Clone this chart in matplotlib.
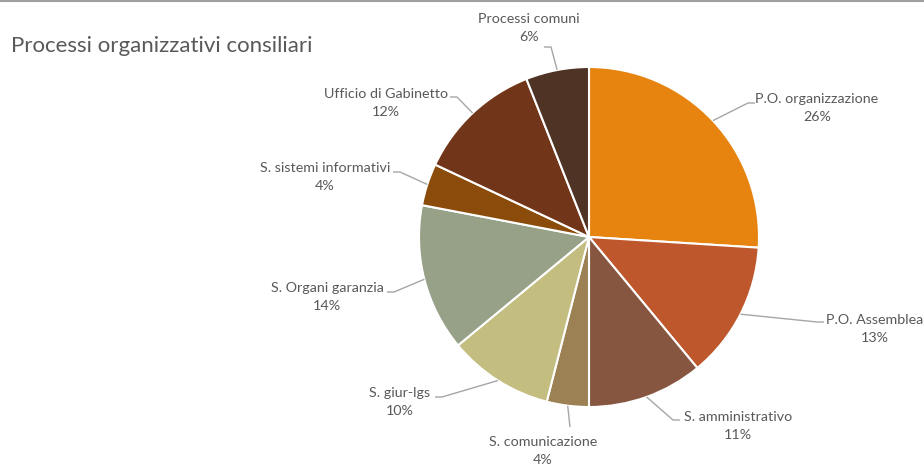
import numpy as np
import matplotlib.pyplot as plt

W, H = 924, 465

labels = ['P.O. organizzazione', 'P.O. Assemblea', 'S. amministrativo',
          'S. comunicazione', 'S. giur-lgs', 'S. Organi garanzia',
          'S. sistemi informativi', 'Ufficio di Gabinetto', 'Processi comuni']
values = [26, 13, 11, 4, 10, 14, 4, 12, 6]
colors = ['#E6840F', '#BE582C', '#865640', '#9C8154', '#C3BD80',
          '#96A188', '#8B4C0B', '#71351A', '#4F3325']

# label text position (center of first line) and leader end point, in pixels
label_pos = [(817, 99), (875, 320), (738, 417), (543, 442), (400, 393),
             (327, 288), (325, 168), (386, 94), (529, 19)]
leader_end = [(755, 103), (824, 322), (680, 420), (570, 427), (435, 397),
              (387, 292), (393, 172), (450, 97), (544, 47)]

cx, cy, R = 589, 237, 170
TXT = '#595959'
LINE = '#A6A6A6'

def py(y):
    return H - y

plt.rcParams['font.family'] = ['Lato', 'DejaVu Sans']

fig = plt.figure(figsize=(W / 100, H / 100), dpi=100)
ax = fig.add_axes([0, 0, 1, 1])
ax.axis('off')

wedges, _ = ax.pie(values, colors=colors, startangle=90, counterclock=False,
                   center=(cx, py(cy)), radius=R,
                   wedgeprops=dict(edgecolor='white', linewidth=1.5))
ax.set_xlim(0, W)
ax.set_ylim(0, H)
ax.set_aspect('equal')

for w, lab, v, (tx, ty), (ex, ey) in zip(wedges, labels, values, label_pos, leader_end):
    mid = np.deg2rad((w.theta1 + w.theta2) / 2)
    ax_, ay_ = cx + R * np.cos(mid), py(cy) + R * np.sin(mid)
    if lab == 'S. comunicazione':
        xs, ys = [ax_, ex], [ay_, py(ey)]
    else:
        step = -7 if ex > cx else 7
        xs = [ax_, ex + step, ex]
        ys = [ay_, py(ey), py(ey)]
    ax.plot(xs, ys, color=LINE, lw=1, solid_capstyle='butt')
    ax.text(tx, py(ty), lab, ha='center', va='center', fontsize=10.3, color=TXT)
    ax.text(tx, py(ty + 18), f'{v}%', ha='center', va='center', fontsize=10.3, color=TXT)

ax.text(11, py(46), 'Processi organizzativi consiliari', ha='left', va='center',
        fontsize=16, color=TXT)
ax.plot([0, W], [py(1), py(1)], color='#A0A0A0', lw=1.5)

fig.savefig('out.png', dpi=100)
